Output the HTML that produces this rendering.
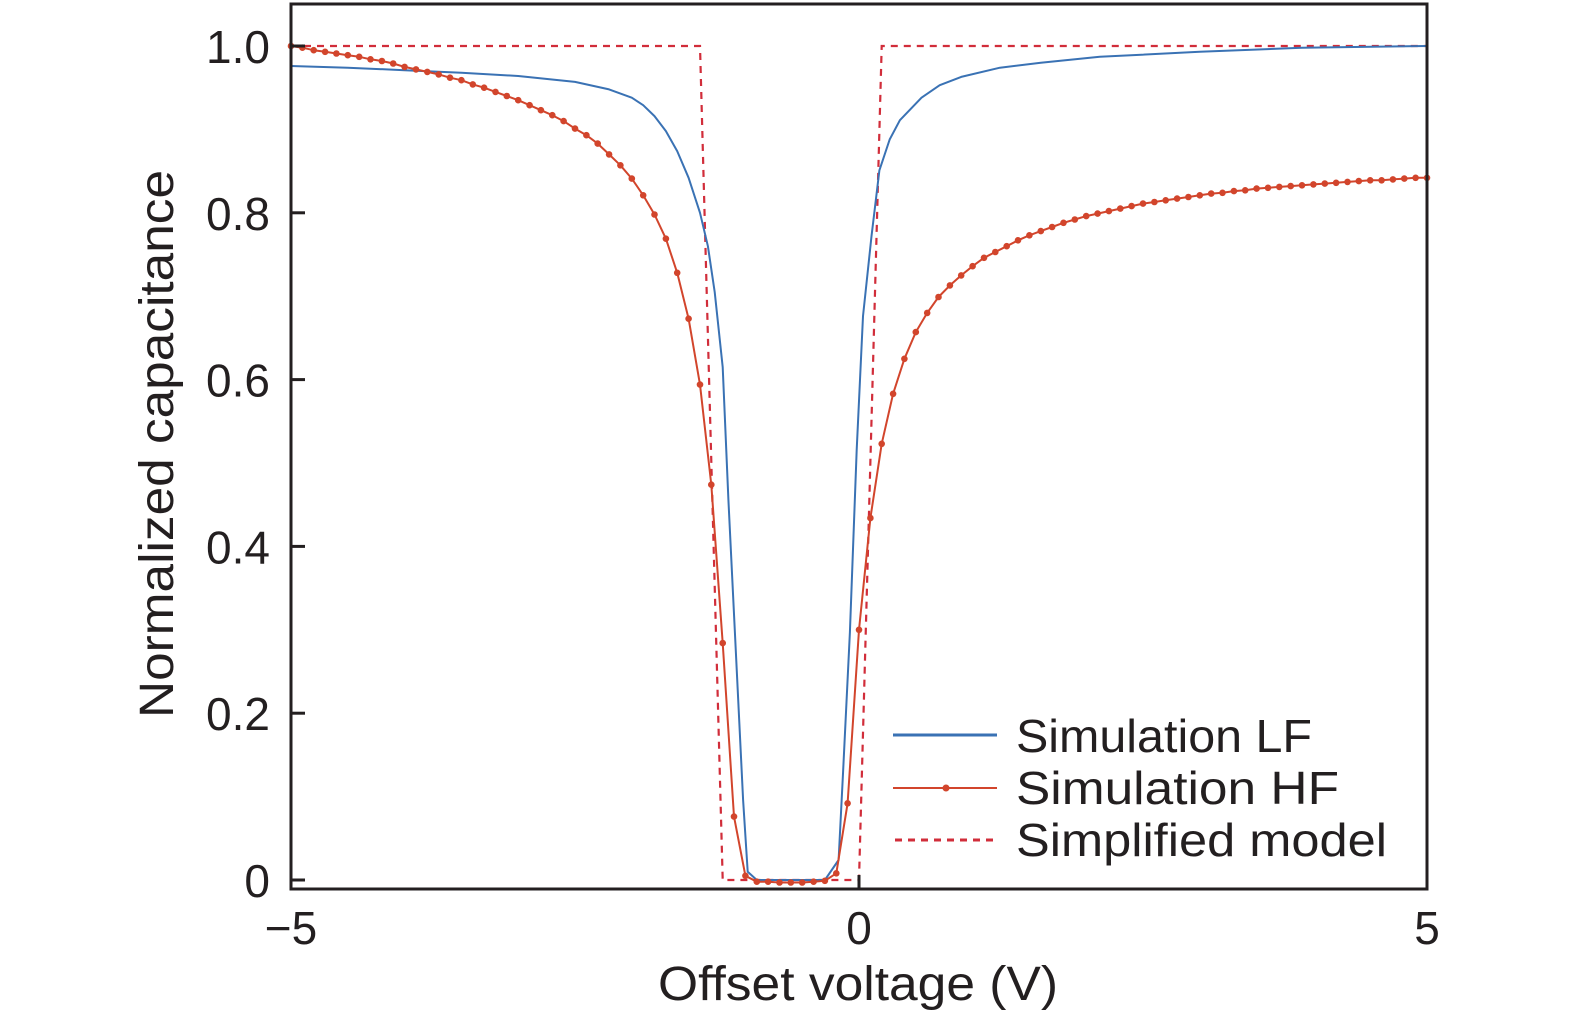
<!DOCTYPE html>
<html><head><meta charset="utf-8"><style>
html,body{margin:0;padding:0;background:#fff;}
svg{display:block;font-family:"Liberation Sans",sans-serif;}
</style></head><body>
<svg id="chart" width="1575" height="1024" viewBox="0 0 1575 1024">
<rect width="1575" height="1024" fill="#fff"/>
<g id="series"></g>
<g id="axes"></g>
<g id="legend">
  <line x1="893" y1="735" x2="997" y2="735" stroke="#3a72b4" stroke-width="3"/>
  <text x="1016" y="752" font-size="46" textLength="296" lengthAdjust="spacingAndGlyphs" fill="#231f20">Simulation LF</text>
  <line x1="893" y1="788" x2="997" y2="788" stroke="#d2452c" stroke-width="2"/>
  <circle cx="946" cy="788" r="3.5" fill="#d2452c"/>
  <text x="1016" y="804" font-size="46" textLength="323" lengthAdjust="spacingAndGlyphs" fill="#231f20">Simulation HF</text>
  <line x1="895" y1="840" x2="995" y2="840" stroke="#d12d3a" stroke-width="3" stroke-dasharray="7,6"/>
  <text x="1016" y="856" font-size="46" textLength="371" lengthAdjust="spacingAndGlyphs" fill="#231f20">Simplified model</text>
</g>
</svg>
<script>
const xTicks = [-5, 0, 5];
const xTickLabels = ["\u22125", "0", "5"];
const yTicks = [0, 0.2, 0.4, 0.6, 0.8, 1.0];
const yTickLabels = ["0", "0.2", "0.4", "0.6", "0.8", "1.0"];
const hfStart = -5, hfStep = 0.1;
const hfValues = [1.000,0.998,0.995,0.993,0.991,0.989,0.987,0.984,0.982,0.979,0.975,0.972,0.969,0.966,0.962,0.959,0.954,
0.950,0.945,0.940,0.935,0.929,0.923,0.917,
0.910,0.901,0.893,0.883,0.870,0.857,0.841,0.821,0.798,0.769,0.728,0.673,0.594,0.474,0.284,0.076,0.005,
-0.002,-0.002,-0.003,-0.003,-0.003,-0.002,-0.001,0.008,0.092,
0.300,0.434,0.523,0.583,0.625,0.657,0.680,0.699,0.713,0.725,0.736,0.746,0.753,
0.760,0.767,0.773,0.778,0.783,0.788,0.792,0.796,0.799,0.802,0.805,0.808,0.811,0.813,0.815,0.817,0.819,0.821,0.823,0.824,0.826,0.827,0.829,0.830,0.831,0.832,0.833,0.834,0.835,0.836,0.837,0.838,0.839,0.839,0.840,0.841,0.842,0.842];
const lfVolts = [-5,-4.5,-4,-3.5,-3,-2.5,-2.2,-2.0,-1.9,-1.8,-1.7,-1.6,-1.5,-1.4,-1.33,-1.27,-1.2,-1.15,-1.02,-0.98,-0.9,-0.3,-0.18,-0.14,-0.08,-0.02,0.035,0.11,0.18,0.27,0.36,0.55,0.71,0.9,1.24,1.6,2.12,3.0,3.9,5];
const lfValues = [0.976,0.974,0.971,0.968,0.964,0.957,0.948,0.938,0.929,0.916,0.898,0.874,0.842,0.800,0.760,0.705,0.615,0.456,0.096,0.01,0,0,0.024,0.13,0.297,0.516,0.676,0.772,0.851,0.888,0.911,0.938,0.953,0.963,0.974,0.980,0.987,0.993,0.998,1.0];
const modelVolts = [-5,-1.4,-1.2,0,0.2,5];
const modelValues = [1,1,0,0,1,1];

const X0 = 291, X1 = 1427, Y0 = 880, Y1 = 46;
function sx(v){ return X0 + (v + 5) / 10 * (X1 - X0); }
function sy(c){ return Y0 - c * (Y0 - Y1); }
const NS = "http://www.w3.org/2000/svg";
const series = document.getElementById('series');
const axes = document.getElementById('axes');
function mk(tag, attrs, parent){ const e = document.createElementNS(NS, tag); for (const k in attrs) e.setAttribute(k, attrs[k]); parent.appendChild(e); return e; }

let d = modelVolts.map((v,i)=>(i?'L':'M')+sx(v).toFixed(1)+','+sy(modelValues[i]).toFixed(1)).join(' ');
const pm = mk('path', {d:d, fill:'none', stroke:'#d12d3a', 'stroke-width':2.2, 'stroke-dasharray':'7,6'}, series);


d = lfVolts.map((v,i)=>(i?'L':'M')+sx(v).toFixed(1)+','+sy(lfValues[i]).toFixed(1)).join(' ');
const pl = mk('path', {d:d, fill:'none', stroke:'#3a72b4', 'stroke-width':2, 'stroke-linejoin':'round'}, series);


d = hfValues.map((c,i)=>(i?'L':'M')+sx(hfStart+i*hfStep).toFixed(1)+','+sy(c).toFixed(1)).join(' ');
const ph = mk('path', {d:d, fill:'none', stroke:'#d2452c', 'stroke-width':2, 'stroke-linejoin':'round'}, series);


hfValues.forEach((c,i)=>{
  const p = mk('circle', {cx:sx(hfStart+i*hfStep).toFixed(1), cy:sy(c).toFixed(1), r:3.3, fill:'#d2452c'}, series);
  
  
});

const fr = mk('rect', {x:X0, y:4, width:X1-X0, height:885, fill:'none', stroke:'#231f20', 'stroke-width':3}, axes);


yTicks.forEach((t,i)=>{
  const l = mk('line', {x1:X0, x2:X0+14, y1:sy(t), y2:sy(t), stroke:'#231f20', 'stroke-width':3}, axes);
  
  
  const tx = mk('text', {x:270, y:sy(t)+17, 'font-size':46, 'text-anchor':'end', fill:'#231f20'}, axes);
  tx.textContent = yTickLabels[i];
  
  
});
xTicks.forEach((t,i)=>{
  const l = mk('line', {x1:sx(t), x2:sx(t), y1:889, y2:875, stroke:'#231f20', 'stroke-width':3}, axes);
  
  
  const tx = mk('text', {x:sx(t), y:944, 'font-size':46, 'text-anchor':'middle', fill:'#231f20'}, axes);
  tx.textContent = xTickLabels[i];
  
  
});
const xt = mk('text', {x:858, y:1000, 'font-size':48, 'text-anchor':'middle', fill:'#231f20', textLength:400, lengthAdjust:'spacingAndGlyphs'}, axes);
xt.textContent = 'Offset voltage (V)';


const yt = mk('text', {x:0, y:0, 'font-size':48, 'text-anchor':'middle', fill:'#231f20', textLength:548, lengthAdjust:'spacingAndGlyphs', transform:'translate(173,444) rotate(-90)'}, axes);
yt.textContent = 'Normalized capacitance';


</script>
</body></html>
